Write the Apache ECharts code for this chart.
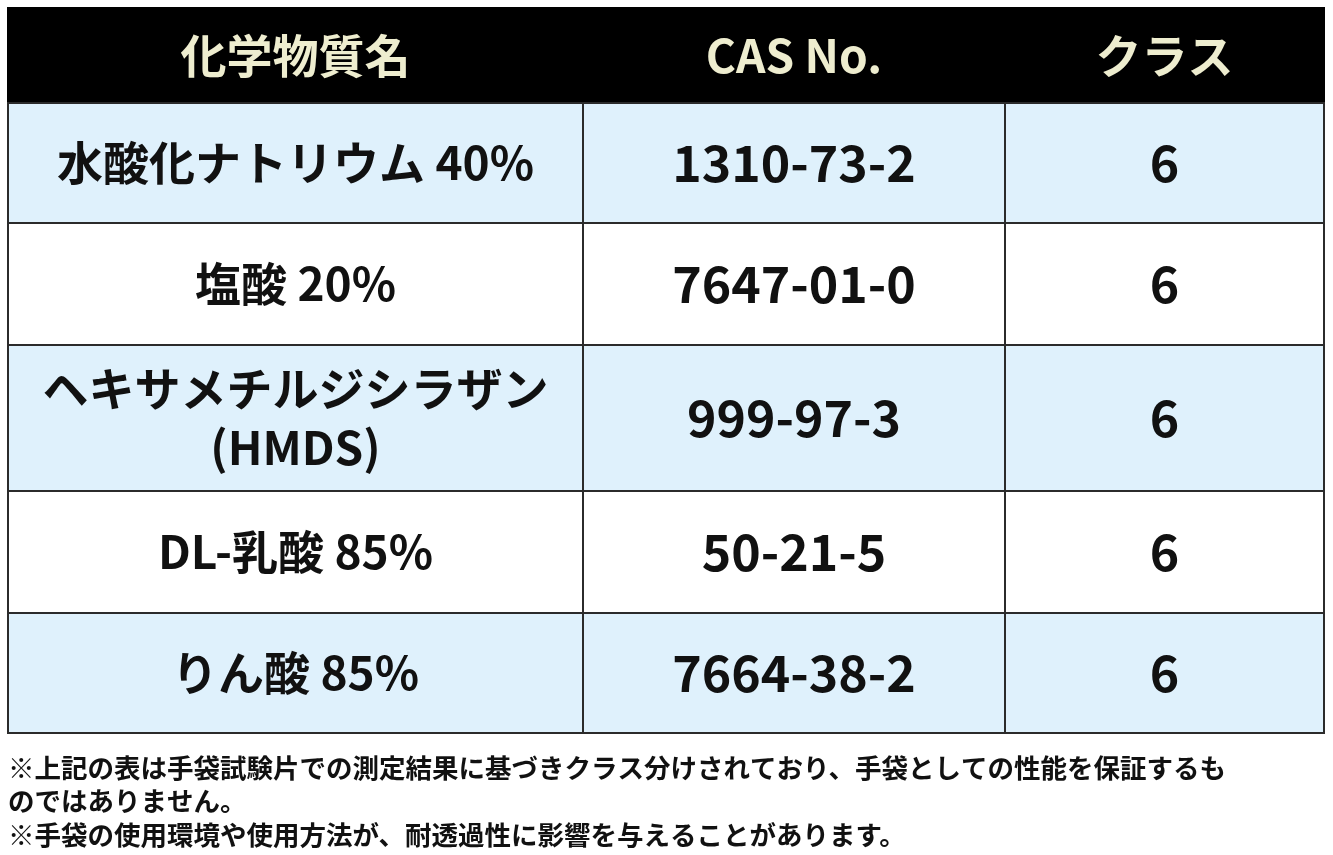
<!DOCTYPE html>
<html><head><meta charset="utf-8">
<script src="https://cdn.jsdelivr.net/npm/echarts@6/dist/echarts.min.js"></script>
<style>html,body{margin:0;padding:0;background:#fff}#c{width:1333px;height:855px}</style>
</head><body><div id="c"></div>
<script>
const headers = ['化学物質名', 'CAS No.', 'クラス'];
const chemicals = ['水酸化ナトリウム 40%', '塩酸 20%', 'ヘキサメチルジシラザン\n(HMDS)', 'DL-乳酸 85%', 'りん酸 85%'];
const casNumbers = ['1310-73-2', '7647-01-0', '999-97-3', '50-21-5', '7664-38-2'];
const classes = ['6', '6', '6', '6', '6'];
const notes = [
  '※上記の表は手袋試験片での測定結果に基づきクラス分けされており、手袋としての性能を保証するも',
  'のではありません。',
  '※手袋の使用環境や使用方法が、耐透過性に影響を与えることがあります。'
];

const colX = [8, 583, 1005, 1324];
const rowY = [8, 103, 223, 345, 491, 613, 733];
const font = '"Noto Sans CJK JP", "Noto Sans", sans-serif';
const g = [];
for (let r = 0; r < rowY.length - 1; r++) {
  const y0 = rowY[r], y1 = rowY[r + 1];
  const header = r === 0;
  const fill = header ? '#000' : (r % 2 === 1 ? '#dff1fc' : '#ffffff');
  const vals = header ? headers : [chemicals[r - 1], casNumbers[r - 1], classes[r - 1]];
  for (let c = 0; c < 3; c++) {
    g.push({type: 'rect', shape: {x: colX[c], y: y0, width: colX[c + 1] - colX[c], height: y1 - y0},
      style: {fill: fill, stroke: header ? '#000' : '#2b2b2b', lineWidth: 2}});
    const fs = header ? 46 : (c === 0 ? 46 : 50);
    g.push({type: 'text', x: (colX[c] + colX[c + 1]) / 2, y: (y0 + y1) / 2,
      style: {text: vals[c], fill: header ? '#eeedcf' : '#111', font: 'bold ' + fs + 'px ' + font,
        textAlign: 'center', textVerticalAlign: 'middle', lineHeight: 59}});
  }
}
const noteY = [768, 801, 835];
notes.forEach((t, i) => g.push({type: 'text', x: 8, y: noteY[i],
  style: {text: t, fill: '#111', font: 'bold 26.5px ' + font, textVerticalAlign: 'middle'}}));

const chart = echarts.init(document.getElementById('c'));
chart.setOption({animation: false, graphic: g});
</script></body></html>
